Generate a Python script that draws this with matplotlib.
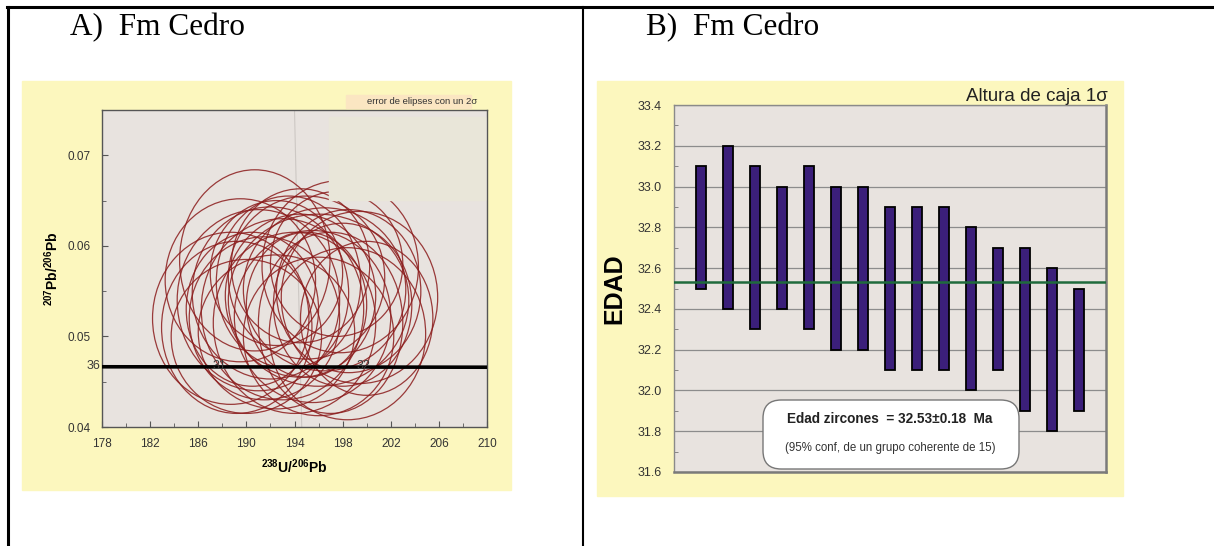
import matplotlib
matplotlib.use("Agg")
import matplotlib.pyplot as plt
from matplotlib.patches import Ellipse, Rectangle, FancyBboxPatch
from matplotlib.lines import Line2D
import numpy as np

plt.rcParams['font.family'] = ['Liberation Sans', 'DejaVu Sans']
plt.rcParams['mathtext.fontset'] = 'custom'
plt.rcParams['mathtext.rm'] = 'Liberation Sans'
plt.rcParams['mathtext.bf'] = 'Liberation Sans:bold'
plt.rcParams['mathtext.it'] = 'Liberation Sans:italic'

W, H = 1214, 546

# ---- panel A data: Tera-Wasserburg ellipses (centre x, centre y, full width, full height)
ell_x = [190.7, 197.8, 188.7, 199.4, 198.5, 198.4, 189.2, 189.5, 190.0, 192.0,
         193.0, 194.5, 195.5, 196.5, 193.5, 191.5, 197.0, 195.0, 192.5, 196.0,
         194.0, 191.0, 198.0, 194.5, 200.0, 192.5, 195.0, 197.5, 190.5, 196.0]
ell_y = [0.0584, 0.0577, 0.0520, 0.0543, 0.0550, 0.0503, 0.0510, 0.0562, 0.0500, 0.0548,
         0.0530, 0.0545, 0.0522, 0.0552, 0.0560, 0.0520, 0.0515, 0.0565, 0.0505, 0.0500,
         0.0515, 0.0540, 0.0535, 0.0578, 0.0520, 0.0570, 0.0535, 0.0580, 0.0530, 0.0540]
ell_w = [12.5, 13.0, 13.0, 13.0, 12.0, 13.0, 12.5, 12.5, 12.5, 13.0,
         13.5, 12.5, 13.0, 13.5, 12.0, 12.5, 12.0, 13.0, 13.0, 12.5,
         13.5, 13.5, 11.5, 11.5, 11.0, 11.0, 10.0, 11.0, 11.0, 15.0]
ell_h = [0.0200, 0.0190, 0.0190, 0.0190, 0.0180, 0.0190, 0.0190, 0.0180, 0.0170, 0.0190,
         0.0200, 0.0180, 0.0190, 0.0180, 0.0190, 0.0180, 0.0200, 0.0180, 0.0170, 0.0175,
         0.0200, 0.0200, 0.0180, 0.0170, 0.0170, 0.0160, 0.0160, 0.0160, 0.0170, 0.0190]
concordia_x = [178, 210]
concordia_y = [0.04665, 0.0466]
conc_labels = ['36', '31', '32']
conc_label_x = [177.3, 187.8, 199.7]

# ---- panel B data: 1 sigma age boxes
ages_lo = [32.5, 32.4, 32.3, 32.4, 32.3, 32.2, 32.2, 32.1, 32.1, 32.1, 32.0, 32.1, 31.9, 31.8, 31.9]
ages_hi = [33.1, 33.2, 33.1, 33.0, 33.1, 33.0, 33.0, 32.9, 32.9, 32.9, 32.8, 32.7, 32.7, 32.6, 32.5]
mean_age = 32.53


def fig_rect(x0, y0, x1, y1):
    # pixel box (top-left origin) -> figure fraction [l, b, w, h]
    return [x0 / W, 1 - y1 / H, (x1 - x0) / W, (y1 - y0) / H]


fig = plt.figure(figsize=(W / 100, H / 100), dpi=100)
fig.patch.set_facecolor('white')

# table frame
fig.add_artist(Line2D([7 / W, 1], [1 - 6.5 / H] * 2, color='black', lw=2.2))
fig.add_artist(Line2D([7.5 / W] * 2, [0, 1 - 6.5 / H], color='black', lw=2.2))
fig.add_artist(Line2D([583 / W] * 2, [0, 1 - 6.5 / H], color='black', lw=1.5))

fig.text(70 / W, 1 - 28 / H, 'A)  Fm Cedro', family='Liberation Serif', fontsize=22.5,
         va='center', ha='left')
fig.text(646 / W, 1 - 28 / H, 'B)  Fm Cedro', family='Liberation Serif', fontsize=22.5,
         va='center', ha='left')

yellow = '#fcf7be'
ra = fig_rect(22, 81, 511, 490)
fig.add_artist(Rectangle(ra[:2], ra[2], ra[3], transform=fig.transFigure, color=yellow, zorder=0))
rb = fig_rect(597, 81, 1123, 496)
fig.add_artist(Rectangle(rb[:2], rb[2], rb[3], transform=fig.transFigure, color=yellow, zorder=0))

# ================= panel A =================
axA = fig.add_axes(fig_rect(102, 110, 487, 427))
axA.set_facecolor('#e8e3df')
axA.set_xlim(178, 210)
axA.set_ylim(0.04, 0.075)

for x, y, w, h in zip(ell_x, ell_y, ell_w, ell_h):
    axA.add_patch(Ellipse((x, y), w, h, fill=False, edgecolor='#8b1c1c', lw=0.9, alpha=0.85, zorder=2))

axA.plot([194.0, 194.6], [0.075, 0.04], color='#cdc8c4', lw=0.8, zorder=1)
axA.plot(concordia_x, concordia_y, color='black', lw=2.6, zorder=3, solid_capstyle='butt')
for lab, lx in zip(conc_labels, conc_label_x):
    axA.text(lx, 0.04675, lab, fontsize=9, color='#3a3a3a', ha='center', va='center', zorder=4)

axA.add_patch(Rectangle((196.9, 0.0651), 12.9, 0.0091, color='#e9e6d9', zorder=5))
axA.add_patch(Rectangle((198.3, 0.0752), 10.4, 0.0015, color='#fbe6c2', zorder=5, clip_on=False))
axA.text(209.2, 0.0759, 'error de elipses con un 2σ', fontsize=6.8, color='#333333',
         ha='right', va='center', zorder=6)

axA.set_xticks(np.arange(178, 211, 4))
axA.set_xticks(np.arange(178, 211, 2), minor=True)
axA.set_yticks([0.04, 0.05, 0.06, 0.07])
axA.set_yticklabels(['0.04', '0.05', '0.06', '0.07'])
axA.set_yticks(np.arange(0.04, 0.0751, 0.005), minor=True)
axA.tick_params(which='both', direction='in', labelsize=8.5, labelcolor='#333333', color='#555555')
axA.tick_params(which='major', length=4, pad=8)
axA.tick_params(which='minor', length=3)
for s in axA.spines.values():
    s.set_color('#555555')
    s.set_linewidth(1.0)
axA.set_xlabel(r'$\mathbf{^{238}U/^{206}Pb}$', fontsize=10, labelpad=5)
axA.set_ylabel(r'$\mathbf{^{207}Pb/^{206}Pb}$', fontsize=10, labelpad=5)

# ================= panel B =================
axB = fig.add_axes(fig_rect(674, 105, 1106, 472))
axB.set_facecolor('#e8e3df')
axB.set_xlim(0, 16)
axB.set_ylim(31.6, 33.4)
idx = np.arange(1, len(ages_lo) + 1)
axB.bar(idx, np.array(ages_hi) - np.array(ages_lo), bottom=ages_lo, width=0.36,
        color='#3b1f7a', edgecolor='black', lw=1.3, zorder=3)
axB.axhline(mean_age, color='#1f6b3c', lw=1.8, zorder=4)
axB.set_yticks(np.arange(31.6, 33.41, 0.2))
axB.set_yticklabels(['%.1f' % v for v in np.arange(31.6, 33.41, 0.2)])
axB.set_yticks(np.arange(31.7, 33.4, 0.2), minor=True)
axB.set_xticks([])
axB.grid(axis='y', which='major', color='#8c8c8c', lw=0.9, zorder=1)
axB.set_axisbelow(True)
axB.tick_params(which='both', direction='in', labelsize=9, labelcolor='#333333', color='#777777')
axB.tick_params(which='major', length=0, pad=9)
axB.tick_params(which='minor', length=3)
for k, s in axB.spines.items():
    s.set_color('#8a8a8a')
    s.set_linewidth(1.0)
axB.spines['right'].set_linewidth(1.8)
axB.spines['bottom'].set_linewidth(1.8)
axB.spines['right'].set_color('#7a7a7a')
axB.spines['bottom'].set_color('#7a7a7a')
axB.set_ylabel('EDAD', fontsize=18, fontweight='bold', labelpad=8)

axB.text(1.005, 1.024, 'Altura de caja 1σ', transform=axB.transAxes, fontsize=13.5,
         color='#222222', ha='right', va='center')

bx = fig_rect(763, 400, 1019, 469)
box = FancyBboxPatch((bx[0], bx[1]), bx[2], bx[3], boxstyle='round,pad=0,rounding_size=0.015',
                     transform=fig.transFigure, facecolor='white', edgecolor='#777777', lw=1.0,
                     zorder=10, mutation_aspect=W / H)
fig.add_artist(box)
fig.text(890 / W, 1 - 419 / H, 'Edad zircones  = 32.53±0.18  Ma', fontsize=9.8, fontweight='bold',
         ha='center', va='center', color='#222222', zorder=11)
fig.text(890 / W, 1 - 448 / H, '(95% conf, de un grupo coherente de 15)', fontsize=8.3,
         ha='center', va='center', color='#333333', zorder=11)

fig.savefig('out.png', dpi=100)
